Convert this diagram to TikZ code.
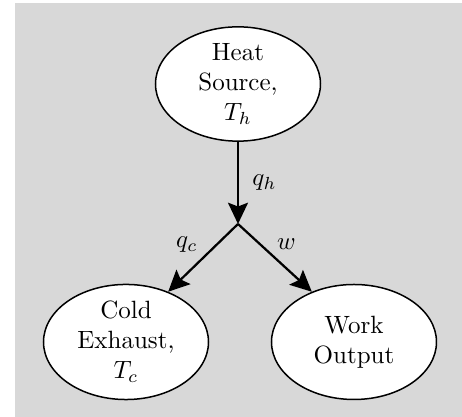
\documentclass[tikz,border=0pt]{standalone}
\usetikzlibrary{shapes.geometric,arrows.meta}
\definecolor{bggray}{HTML}{D8D8D8}

\begin{document}
\begin{tikzpicture}[
x=0.4pt,y=-0.4pt,
state/.style={
  draw,
  ellipse,
  fill=white,
  line width=0.6pt,
  inner sep=0pt,
  align=center,
  minimum width=66pt,
  minimum height=46pt
},
flow/.style={
  line width=0.9pt,
  -{Stealth[length=8.5pt,width=8pt,inset=1.5pt]}
}
]
\useasboundingbox (0,0) rectangle (462,417);
\fill[bggray] (15,3) rectangle (462,417);

\node[state,minimum height=42pt] at (238,84)
  (source) {Heat\\ Source,\\ $T_h$};
\node[state] at (126,342)
  (exhaust) {Cold\\ Exhaust,\\ $T_c$};
\node[state] at (354,342)
  (work) {Work\\ Output};

\coordinate (split) at (238,224);

\draw[flow] (source) -- node[right=2pt] {$q_h$} (split);
\draw[flow] (split) -- node[pos=0.3,left=4pt] {$q_c$} (exhaust.50);
\draw[flow] (split) -- node[pos=0.3,right=3pt] {$w$} (work.130);

\end{tikzpicture}
\end{document}
